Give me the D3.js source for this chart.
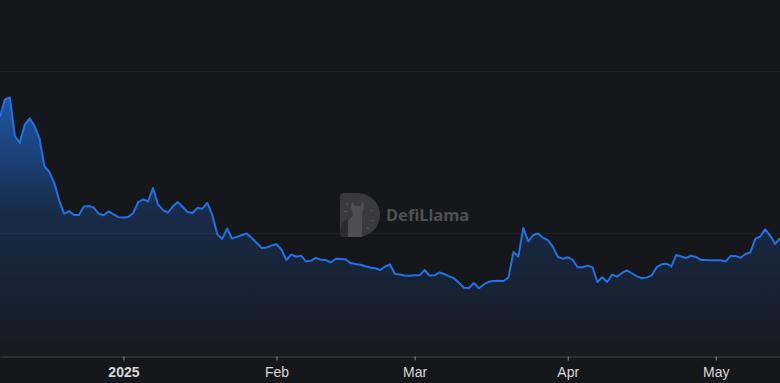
<!DOCTYPE html>
<html>
<head>
<meta charset="utf-8">
<script src="https://cdn.jsdelivr.net/npm/d3@7/dist/d3.min.js"></script>
<style>
  html, body { margin: 0; padding: 0; background: #16171a; }
  svg { display: block; }
</style>
</head>
<body>
<svg id="chart" width="780" height="383"></svg>
<script>
// ---- data ----
const startDate = "2024-12-07";
const values = [
  171.8, 182.5, 183.6, 159.9, 155.5, 166.8, 170.8, 166.0, 158.2, 141.3,
  137.6, 130.8, 120.0, 111.8, 113.5, 111.1, 111.0, 116.3, 116.6, 115.7,
  111.8, 110.9, 113.3, 111.5, 109.7, 109.6, 109.9, 112.3, 119.1, 120.8,
  119.5, 127.7, 117.6, 114.2, 112.6, 116.3, 119.1, 116.0, 112.9, 112.3,
  115.4, 115.0, 118.5, 111.1, 99.3, 96.3, 102.7, 96.6, 97.6, 98.7,
  99.6, 96.9, 93.8, 90.7, 91.0, 92.2, 93.0, 89.8, 83.3, 86.7,
  85.3, 85.9, 82.4, 82.9, 84.6, 83.4, 83.3, 81.7, 84.1, 83.9,
  83.7, 81.4, 80.8, 80.3, 79.4, 78.7, 78.2, 77.1, 79.3, 80.5,
  74.6, 74.3, 73.7, 73.6, 73.9, 73.8, 77.1, 73.7, 73.8, 75.6,
  74.6, 73.2, 71.9, 69.1, 66.1, 66.0, 69.1, 65.8, 68.2, 69.8,
  70.3, 70.5, 70.3, 72.5, 88.2, 85.4, 103.0, 94.7, 98.7, 99.6,
  97.0, 95.5, 91.4, 85.3, 84.1, 85.0, 83.3, 78.8, 78.8, 79.8,
  78.9, 69.7, 72.6, 69.7, 74.3, 73.0, 75.3, 76.9, 75.1, 73.2,
  72.0, 72.4, 73.8, 78.7, 80.6, 81.0, 79.3, 86.4, 85.4, 84.5,
  85.9, 85.1, 83.3, 83.3, 83.1, 83.1, 83.1, 82.4, 85.8, 85.8,
  84.7, 87.0, 88.0, 96.3, 97.8, 102.2, 98.4, 93.2, 96.7
];
const tickDates = ["2025-01-01", "2025-02-01", "2025-03-01", "2025-04-01", "2025-05-01"];
const tickLabels = ["2025", "Feb", "Mar", "Apr", "May"];
const gridValues = [100, 200];

// ---- setup ----
const W = 780, H = 383;
const parse = d3.utcParse("%Y-%m-%d");
const t0 = parse(startDate);
const data = values.map((v, i) => ({ date: d3.utcDay.offset(t0, i), value: v }));

const x = d3.scaleUtc()
  .domain([t0, d3.utcDay.offset(t0, values.length - 1)])
  .range([0, W]);
const y = d3.scaleLinear().domain([24, 200]).range([356, 71]);

const svg = d3.select("#chart");

// gradient
const defs = svg.append("defs");
const yTop = y(d3.max(values));
const grad = defs.append("linearGradient")
  .attr("id", "areaGrad")
  .attr("gradientUnits", "userSpaceOnUse")
  .attr("x1", 0).attr("x2", 0)
  .attr("y1", yTop).attr("y2", y.range()[0]);
grad.append("stop").attr("offset", "0%").attr("stop-color", "#2172e5").attr("stop-opacity", 0.7);
grad.append("stop").attr("offset", "45%").attr("stop-color", "#2172e5").attr("stop-opacity", 0.22);
grad.append("stop").attr("offset", "100%").attr("stop-color", "#2172e5").attr("stop-opacity", 0.03);

// grid lines
svg.append("g")
  .selectAll("line")
  .data(gridValues)
  .join("line")
  .attr("x1", 0).attr("x2", W)
  .attr("y1", d => Math.round(y(d)) + 0.5)
  .attr("y2", d => Math.round(y(d)) + 0.5)
  .attr("stroke", "#1f2024")
  .attr("stroke-width", 1);

// watermark
const wm = svg.append("g").attr("transform", "translate(340,193)");
wm.append("path")
  .attr("d", "M4,0 H18 A22,22 0 0 1 18,44 H4 A4,4 0 0 1 0,40 V4 A4,4 0 0 1 4,0 Z")
  .attr("fill", "#3a3a3c");
wm.append("path")
  .attr("d", "M12,8 L15,13 L20,13 L23,8 L24,15 L22,20 L22,44 L8,44 L8,28 L13,22 L11,15 Z")
  .attr("fill", "#4e4e50");
wm.append("path")
  .attr("d", "M2,30 L8,26 L8,44 L4,44 A4,4 0 0 1 0,40 Z")
  .attr("fill", "#2c2c2e");
[[4,18,7,19],[30,18,33,17],[31,27,34,28],[27,34,29,36],[6,10,8,12]].forEach(p => {
  wm.append("line").attr("x1", p[0]).attr("y1", p[1]).attr("x2", p[2]).attr("y2", p[3])
    .attr("stroke", "#555558").attr("stroke-width", 1.2);
});
svg.append("text")
  .attr("x", 386).attr("y", 221)
  .attr("font-family", "'Noto Sans', 'DejaVu Sans', sans-serif")
  .attr("font-size", 16.5).attr("font-weight", 700)
  .attr("fill", "#505053")
  .text("DefiLlama");

// area + line
const area = d3.area()
  .x(d => x(d.date))
  .y0(y.range()[0])
  .y1(d => y(d.value));
const line = d3.line()
  .x(d => x(d.date))
  .y(d => y(d.value));

svg.append("path").datum(data)
  .attr("d", area)
  .attr("fill", "url(#areaGrad)");
svg.append("path").datum(data)
  .attr("d", line)
  .attr("fill", "none")
  .attr("stroke", "#2172e5")
  .attr("stroke-width", 2)
  .attr("stroke-linejoin", "round");

// x axis
const tickVals = tickDates.map(parse);
const xAxis = d3.axisBottom(x)
  .tickValues(tickVals)
  .tickSize(4)
  .tickSizeOuter(0)
  .tickFormat((d, i) => tickLabels[i]);
const gx = svg.append("g")
  .attr("transform", "translate(0,356.5)")
  .call(xAxis);
gx.select(".domain").attr("stroke", "#4a4b4f");
gx.selectAll(".tick line").attr("stroke", "#8a8b8f");
gx.selectAll(".tick text")
  .attr("fill", "#d8d8da")
  .attr("dy", "0.95em")
  .attr("font-family", "'Liberation Sans Narrow', 'Liberation Sans', Arial, sans-serif")
  .attr("font-size", 14)
  .attr("font-weight", (d, i) => i === 0 ? 700 : 400);
</script>
</body>
</html>
